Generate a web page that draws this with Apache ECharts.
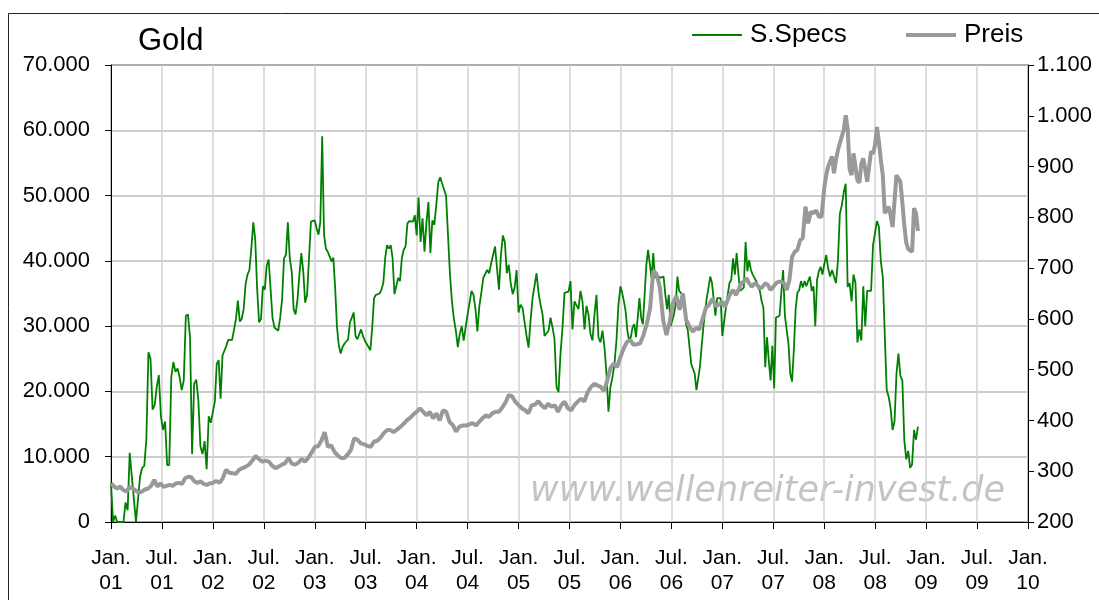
<!DOCTYPE html>
<html><head><meta charset="utf-8">
<script src="https://cdn.jsdelivr.net/npm/echarts@6/dist/echarts.min.js"></script>
<style>html,body{margin:0;padding:0;background:#fff}#c{width:1099px;height:600px}</style>
</head><body><div id="c"></div>
<script>
// Years covered by the weekly data (each array spans one calendar year)
const years = [2001, 2002, 2003, 2004, 2005, 2006, 2007, 2008];

// S.Specs (green, left axis)
const specs2001 = [6000, 0, 1000, 0, 0, 0, 0, 3000, 1800, 10600, 7000, 3500, 0, 3500, 7000, 8300, 8600, 12600, 26000, 25000, 17200, 17900, 20700, 22500, 16200, 14100, 15400, 8700, 8700, 22200, 24500, 23000, 23500, 22200, 20200, 21700, 31600, 31800, 28300, 10400, 21200, 21800, 18700, 11600, 10400, 12400, 8100, 16200, 15200];
const specs2002 = [16900, 18400, 24200, 24800, 18900, 25500, 25800, 27000, 27900, 28000, 27900, 27900, 31100, 33900, 30700, 31100, 32600, 36400, 37900, 38600, 41900, 45900, 43400, 35900, 30600, 31100, 36100, 35600, 39300, 40200, 40300, 31300, 29800, 29500, 29300, 31300, 34100, 40400, 40900, 45900, 40400, 38400, 32600, 31800, 34100, 37900, 41200, 38400, 33600, 34800, 40400, 46000, 46200];
const specs2003 = [46200, 45000, 44000, 46000, 59100, 44000, 41900, 41400, 40700, 39900, 40500, 35900, 29800, 27000, 25800, 26800, 27300, 27500, 28000, 30600, 31300, 32100, 28500, 28000, 27800, 29500, 28500, 27800, 27300, 27000, 26300, 29800, 34300, 34800, 35000, 35000, 35600, 36600, 40400, 42400, 41900, 42400, 40400, 34900, 36100, 37400, 36900, 40400, 41700, 42200, 45700, 46100, 45900, 46000, 47000];
const specs2004 = [43900, 49700, 42900, 46500, 41400, 45900, 49000, 41200, 46200, 45500, 48500, 52000, 52800, 51800, 51900, 50000, 43900, 37900, 33800, 31100, 29300, 26800, 28800, 30000, 27800, 27900, 31800, 31600, 35400, 34800, 32600, 29200, 33100, 35100, 37400, 37100, 38600, 38100, 39600, 39800, 42200, 38900, 35600, 40900, 43900, 42900, 38100, 39400, 36600, 34900, 35900, 38600];
const specs2005 = [32100, 33300, 32800, 30600, 28500, 26700, 30800, 34300, 34300, 38100, 35100, 33300, 31800, 28500, 28500, 29300, 31300, 29800, 28000, 20700, 19900, 25800, 29800, 35100, 35400, 35300, 36900, 29500, 33800, 33900, 32600, 35400, 33800, 29500, 33100, 31800, 28800, 27800, 31800, 34800, 28300, 27500, 29300, 26800, 22700, 16900, 20700, 22200, 24200, 27800, 33300];
const specs2006 = [36100, 35100, 33800, 32300, 29300, 27800, 28300, 29800, 30300, 28300, 31300, 34300, 31300, 30300, 34800, 39400, 41700, 41900, 37400, 41200, 37400, 37900, 37600, 37400, 37400, 37600, 34800, 32600, 34800, 30000, 30300, 31800, 33300, 37600, 35400, 35400, 34800, 33300, 30300, 29400, 26800, 24200, 24000, 22700, 20200, 19900, 23700, 26800, 29800, 32300, 34300, 34100, 37600, 36600, 36400, 31600, 34300, 34600, 34300];
const specs2007 = [28500, 28800, 32800, 34800, 36600, 37100, 40400, 37900, 41200, 37900, 35400, 35600, 35900, 42900, 38400, 40100, 38600, 37900, 38100, 36900, 35900, 35400, 33800, 32800, 23700, 28300, 24700, 21700, 27000, 20500, 31300, 31600, 31600, 31600, 38600, 31600, 31600, 27300, 22700, 21500, 26300, 32600, 35100, 35500, 36900, 35900, 36900, 36100, 36900, 37600, 35400, 36100, 30000, 37100, 38400, 39100, 37900];
const specs2008 = [39400, 40900, 38900, 37600, 38600, 37600, 36600, 39900, 47200, 48500, 50500, 51800, 36000, 36600, 33800, 37900, 36600, 27500, 29500, 27800, 36100, 30000, 35400, 35100, 35400, 42400, 42200, 46100, 45200, 39900, 37600, 28800, 20200, 19200, 17400, 14100, 15400, 22700, 25800, 22400, 21700, 12600, 9600, 10900, 8300, 8800, 14100, 12600, 14600];

// Preis (grey, right axis)
const preis2001 = [276, 270, 266, 270, 263, 260, 269, 266, 262, 258, 260, 264, 266, 271, 283, 270, 276, 269, 271, 273, 271, 276, 277, 275, 286, 289, 288, 280, 277, 280, 275, 273, 276];
const preis2002 = [277, 281, 277, 286, 303, 297, 296, 295, 303, 306, 309, 313, 321, 330, 324, 319, 321, 319, 311, 306, 309, 313, 316, 326, 315, 313, 317, 324, 319, 326, 336];
const preis2003 = [348, 349, 360, 377, 348, 351, 338, 331, 326, 326, 333, 342, 365, 362, 355, 353, 350, 348, 358, 360, 366, 375, 381, 381, 377, 382, 387, 393, 400, 405, 412];
const preis2004 = [417, 424, 417, 410, 417, 404, 414, 400, 420, 417, 397, 391, 378, 388, 390, 390, 392, 395, 390, 397, 404, 410, 407, 414, 417, 417, 425, 435, 450, 448, 437];
const preis2005 = [430, 424, 420, 414, 430, 431, 438, 430, 424, 433, 427, 430, 417, 430, 437, 424, 420, 430, 437, 443, 437, 455, 466, 472, 469, 466, 458, 479, 504, 512, 505];
const preis2006 = [525, 542, 555, 558, 549, 550, 552, 568, 590, 620, 695, 688, 662, 598, 568, 595, 632, 645, 618, 650, 598, 585, 575, 582, 579, 600, 622, 628, 640, 625, 628];
const preis2007 = [634, 624, 637, 650, 657, 647, 657, 670, 673, 680, 670, 663, 670, 667, 660, 663, 670, 667, 657, 663, 670, 673, 673, 670, 657, 676, 722, 732, 736, 755, 759, 821, 788, 811, 808, 814, 801, 801];
const preis2008 = [857, 883, 900, 900, 920, 887, 913, 932, 946, 959, 972, 1001, 975, 895, 883, 926, 926, 873, 868, 905, 916, 895, 870, 870, 930, 925, 942, 978, 949, 913, 883, 808, 808, 821, 804, 781, 778, 883, 883, 870, 830, 785, 750, 738, 740, 732, 818, 808, 773];

// Tick labels
const xTickLabels = ['Jan.\n01','Jul.\n01','Jan.\n02','Jul.\n02','Jan.\n03','Jul.\n03','Jan.\n04','Jul.\n04','Jan.\n05','Jul.\n05','Jan.\n06','Jul.\n06','Jan.\n07','Jul.\n07','Jan.\n08','Jul.\n08','Jan.\n09','Jul.\n09','Jan.\n10'];
const leftTickLabels = ['0','10.000','20.000','30.000','40.000','50.000','60.000','70.000'];
const rightTickLabels = ['200','300','400','500','600','700','800','900','1.000','1.100'];

const specsByYear = [specs2001, specs2002, specs2003, specs2004, specs2005, specs2006, specs2007, specs2008];
const preisByYear = [preis2001, preis2002, preis2003, preis2004, preis2005, preis2006, preis2007, preis2008];

// x = months since Jan 2001; full years spread evenly, the last (partial) year weekly
function build(byYear) {
  const out = [];
  byYear.forEach((arr, k) => {
    const step = (k === byYear.length - 1) ? 12 / 52.18 : 12 / arr.length;
    arr.forEach((v, i) => out.push([(years[k] - years[0]) * 12 + i * step, v]));
  });
  return out;
}

const FONT = "'Liberation Sans', Arial, sans-serif";
const chart = echarts.init(document.getElementById('c'), null, {renderer: 'canvas'});
chart.setOption({
  animation: false,
  backgroundColor: '#ffffff',
  title: {text: 'Gold', left: 138, top: 26, padding: 0,
    textStyle: {fontFamily: FONT, fontSize: 31, fontWeight: 'normal', color: '#000'}},
  legend: [
    {data: ['S.Specs'], left: 692, top: 22, padding: 0, itemWidth: 50, itemHeight: 2, icon: 'rect', selectedMode: false,
      textStyle: {fontFamily: FONT, fontSize: 26, color: '#000', padding: [0, 0, 0, 3]}},
    {data: ['Preis'], left: 906, top: 22, padding: 0, itemWidth: 50, itemHeight: 4, icon: 'rect', selectedMode: false,
      textStyle: {fontFamily: FONT, fontSize: 26, color: '#000', padding: [0, 0, 0, 3]}}
  ],
  grid: {left: 111, right: 71, top: 65, bottom: 78, show: true, borderColor: '#000', borderWidth: 1,
    containLabel: false, outerBoundsMode: 'none'},
  xAxis: {
    type: 'value', min: 0, max: 108, interval: 6,
    axisLine: {show: true, lineStyle: {color: '#000', width: 1}},
    axisTick: {show: true, length: 7, lineStyle: {color: '#000'}},
    splitLine: {show: true, lineStyle: {color: '#d2d2d2', width: 1.5}},
    axisLabel: {formatter: v => xTickLabels[Math.round(v / 6)], fontFamily: FONT, fontSize: 21, lineHeight: 25,
      color: '#000', margin: 24, showMinLabel: true, showMaxLabel: true, hideOverlap: false}
  },
  yAxis: [
    {type: 'value', position: 'left', min: 0, max: 70000, interval: 10000,
      axisLine: {show: true, lineStyle: {color: '#000', width: 1}},
      axisTick: {show: true, length: 6, lineStyle: {color: '#000'}},
      splitLine: {show: true, lineStyle: {color: '#bdbdbd', width: 1.5}},
      axisLabel: {formatter: v => leftTickLabels[Math.round(v / 10000)], fontFamily: FONT, fontSize: 22, color: '#000', margin: 21,
        showMinLabel: true, showMaxLabel: true}},
    {type: 'value', position: 'right', min: 200, max: 1100, interval: 100,
      axisLine: {show: true, lineStyle: {color: '#000', width: 1}},
      axisTick: {show: true, length: 6, lineStyle: {color: '#000'}},
      splitLine: {show: false},
      axisLabel: {formatter: v => rightTickLabels[Math.round((v - 200) / 100)], fontFamily: FONT, fontSize: 22, color: '#000', margin: 9,
        showMinLabel: true, showMaxLabel: true}}
  ],
  graphic: [
    {type: 'rect', silent: true, z: 0, shape: {x: 8.5, y: 13.5, width: 1200, height: 700},
      style: {fill: 'none', stroke: '#222', lineWidth: 1}},
    {type: 'text', silent: true, z: 0, x: 530, y: 492,
      style: {text: 'www.wellenreiter-invest.de', fontFamily: "'DejaVu Sans'", fontStyle: 'italic', fontSize: 35,
        fill: '#c4c4c4', textAlign: 'left', textVerticalAlign: 'middle', verticalAlign: 'middle',
        shadowColor: 'rgba(185,185,185,0.9)', shadowBlur: 3}}
  ],
  series: [
    {name: 'S.Specs', type: 'line', yAxisIndex: 0, data: build(specsByYear), symbol: 'none', showSymbol: false,
      color: '#008000', itemStyle: {color: '#008000'}, lineStyle: {color: '#008000', width: 1.8}, z: 3},
    {name: 'Preis', type: 'line', yAxisIndex: 1, data: build(preisByYear), symbol: 'none', showSymbol: false,
      color: '#999999', itemStyle: {color: '#999999'}, lineStyle: {color: '#999999', width: 4}, z: 4}
  ]
});
</script>
</body></html>
